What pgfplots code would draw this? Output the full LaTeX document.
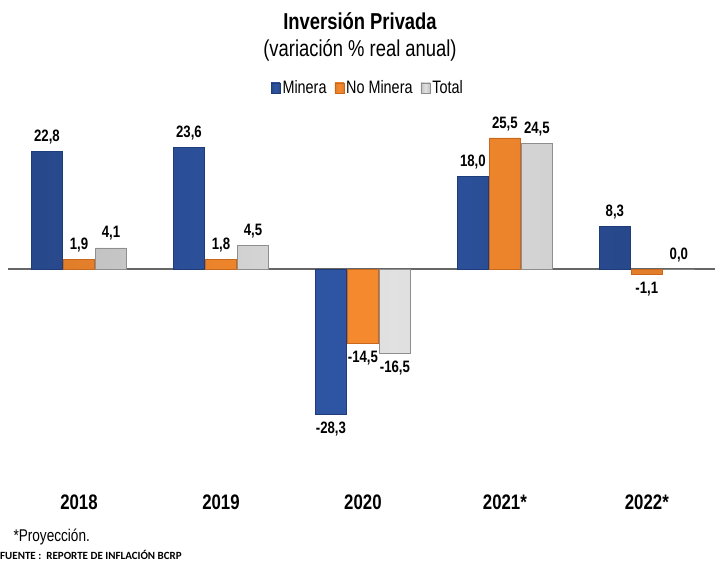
\documentclass[border=0pt]{standalone}
\usepackage{pgfplots}
\pgfplotsset{compat=1.18}
\usepackage{fontspec}
\setmainfont{Liberation Sans}[FakeStretch=0.8]
\newfontfamily\fuente{Carlito}
\definecolor{cblue}{HTML}{2E55A3}
\definecolor{cblued}{HTML}{1F3C7A}
\definecolor{corange}{HTML}{F5892E}
\definecolor{coranged}{HTML}{C8681C}
\definecolor{cgray}{HTML}{D4D4D4}
\definecolor{cgrayd}{HTML}{8E8E8E}
\begin{document}
\begin{tikzpicture}
\useasboundingbox (0,0) rectangle (715pt,-563pt);
\node[font=\bfseries\fontsize{23}{26}\selectfont] at (360pt,-21pt) {Inversión Privada};
\node[font=\fontsize{23}{26}\selectfont] at (360pt,-50pt) {(variación \% real anual)};
\node[anchor=west,font=\fontsize{17}{20}\selectfont] at (10pt,-537pt) {*Proyección.};
\node[anchor=west,inner sep=0pt,font=\fuente\bfseries\fontsize{11}{13}\selectfont] at (0pt,-555pt) {FUENTE :\ \ REPORTE DE INFLACIÓN BCRP};
\begin{axis}[
  at={(8pt,-485pt)}, anchor=south west,
  scale only axis, width=707pt, height=360pt,
  xmin=-0.5, xmax=4.48, ymin=-42, ymax=28,
  ybar=1pt, bar width=31pt,
  clip=false,
  axis line style={draw=none},
  major tick length=0pt,
  ytick=\empty,
  xtick={0,1,2,3,4},
  xticklabels={2018,2019,2020,2021*,2022*},
  xticklabel style={font=\bfseries\fontsize{21}{24}\selectfont, yshift=-6pt},
  nodes near coords,
  /pgf/number format/.cd, fixed, fixed zerofill, precision=1, use comma, assume math mode=true,
  /pgfplots/.cd,
  every node near coord/.append style={font=\bfseries\fontsize{16.5}{19}\selectfont, inner sep=7pt},
  legend columns=3,
  legend style={at={(0.509,1.103)}, anchor=center, draw=none, fill=none,
    font=\fontsize{18}{21}\selectfont, inner sep=0pt,
    /tikz/every even column/.append style={column sep=6pt}},
  legend image code/.code={\fill[#1] (0pt,-5pt) rectangle (9pt,5pt);},
]
\draw[color=gray!80!black, line width=1.8pt] (axis cs:-0.5,0) -- (axis cs:4.48,0);
\addplot[draw=cblued, line width=0.6pt, left color=cblue!85!black, right color=cblue!85!black, middle color=cblue]
  coordinates {(0,22.8) (1,23.6) (2,-28.3) (3,18.0) (4,8.3)};
\addplot[draw=coranged, line width=0.6pt, left color=corange!92!black, right color=corange!92!black, middle color=corange]
  coordinates {(0,1.9) (1,1.8) (2,-14.5) (3,25.5) (4,-1.1)};
\addplot[draw=cgrayd, line width=0.8pt, left color=cgray!92!black, right color=cgray!92!black, middle color=cgray!70!white]
  coordinates {(0,4.1) (1,4.5) (2,-16.5) (3,24.5) (4,0.0)};
\legend{Minera,No Minera,Total}
\end{axis}
\end{tikzpicture}
\end{document}
